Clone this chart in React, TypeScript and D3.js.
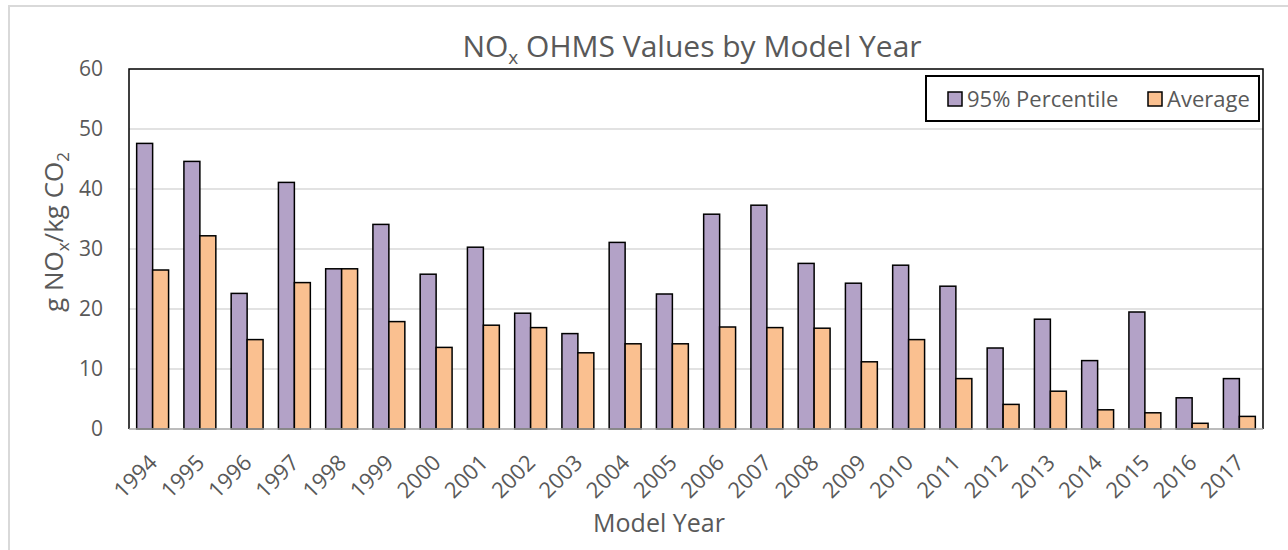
import React, { useEffect, useRef } from "react"
import * as d3 from "d3"

const years = ["1994", "1995", "1996", "1997", "1998", "1999", "2000", "2001", "2002", "2003", "2004", "2005",
  "2006", "2007", "2008", "2009", "2010", "2011", "2012", "2013", "2014", "2015", "2016", "2017"]
const p95 = [47.6, 44.6, 22.6, 41.1, 26.7, 34.1, 25.8, 30.3, 19.3, 15.9, 31.1, 22.5,
  35.8, 37.3, 27.6, 24.3, 27.3, 23.8, 13.5, 18.3, 11.4, 19.5, 5.2, 8.4]
const avg = [26.5, 32.2, 14.9, 24.4, 26.7, 17.9, 13.6, 17.3, 16.9, 12.7, 14.2, 14.2,
  17.0, 16.9, 16.8, 11.2, 14.9, 8.4, 4.1, 6.3, 3.2, 2.7, 0.95, 2.1]
const series = ["95% Percentile", "Average"]
const yTicks = [0, 10, 20, 30, 40, 50, 60]

const colors = ["#B3A2C7", "#FAC090"]
const textColor = "#595959"
const font = "'Open Sans', 'Noto Sans', sans-serif"

const App = () => {
  const ref = useRef<SVGSVGElement>(null)

  useEffect(() => {
    const left = 129, right = 1263, top = 69, bottom = 429
    const svg = d3.select(ref.current)
    svg.selectAll("*").remove()

    const x = d3.scaleBand().domain(years).range([left, right])
    const xs = d3.scaleBand().domain(series).range([0, x.bandwidth()]).paddingOuter(0.48)
    const y = d3.scaleLinear().domain([0, 60]).range([bottom, top])

    // outer chart border
    svg.append("rect")
      .attr("x", 9).attr("y", 6).attr("width", 1300).attr("height", 600)
      .attr("fill", "white").attr("stroke", "#D9D9D9").attr("stroke-width", 2)

    // gridlines
    svg.append("g")
      .selectAll("line")
      .data(yTicks.filter(t => t > 0 && t < 60))
      .join("line")
      .attr("x1", left).attr("x2", right)
      .attr("y1", d => y(d)).attr("y2", d => y(d))
      .attr("stroke", "#D9D9D9").attr("stroke-width", 1.5)

    // bars
    const rows = years.map((yr, i) => ({ yr, vals: [p95[i], avg[i]] }))
    svg.append("g")
      .selectAll("g")
      .data(rows)
      .join("g")
      .attr("transform", d => `translate(${x(d.yr)},0)`)
      .selectAll("rect")
      .data(d => d.vals.map((v, k) => ({ v, k })))
      .join("rect")
      .attr("x", d => xs(series[d.k])!)
      .attr("width", xs.bandwidth())
      .attr("y", d => y(d.v))
      .attr("height", d => y(0) - y(d.v))
      .attr("fill", d => colors[d.k])
      .attr("stroke", "black").attr("stroke-width", 1.5)

    // plot frame
    svg.append("path")
      .attr("d", `M${left},${bottom}V${top}H${right}V${bottom}`)
      .attr("fill", "none").attr("stroke", "black").attr("stroke-width", 1.5)
    svg.append("line")
      .attr("x1", left).attr("x2", right).attr("y1", bottom).attr("y2", bottom)
      .attr("stroke", "#A6A6A6").attr("stroke-width", 1.5)

    // y axis
    const yAxis = svg.append("g")
      .attr("transform", `translate(${left},0)`)
      .call(d3.axisLeft(y).tickValues(yTicks).tickSize(0).tickPadding(26))
    yAxis.select(".domain").remove()
    yAxis.selectAll("text").attr("font-size", 21).attr("font-family", font).attr("fill", textColor)

    // x axis
    const xAxis = svg.append("g")
      .attr("transform", `translate(0,${bottom})`)
      .call(d3.axisBottom(x).tickSize(0))
    xAxis.select(".domain").remove()
    xAxis.selectAll("text")
      .attr("font-size", 22).attr("font-family", font).attr("fill", textColor)
      .attr("text-anchor", "end")
      .attr("dy", null).attr("y", null)
      .attr("transform", "translate(6,35) rotate(-45)")

    // title
    const title = svg.append("text")
      .attr("x", 692).attr("y", 57).attr("text-anchor", "middle")
      .attr("font-size", 30).attr("font-family", font).attr("fill", textColor)
    title.append("tspan").text("NO")
    title.append("tspan").attr("font-size", 19).attr("dy", 7).text("x")
    title.append("tspan").attr("dy", -7).text(" OHMS Values by Model Year")

    // axis titles
    svg.append("text")
      .attr("x", 659).attr("y", 532).attr("text-anchor", "middle")
      .attr("font-size", 25).attr("font-family", font).attr("fill", textColor)
      .text("Model Year")

    const yt = svg.append("text")
      .attr("transform", "translate(63,232) rotate(-90)").attr("text-anchor", "middle")
      .attr("font-size", 26).attr("font-family", font).attr("fill", textColor)
    yt.append("tspan").text("g NO")
    yt.append("tspan").attr("font-size", 17).attr("dy", 6).text("x")
    yt.append("tspan").attr("dy", -6).text("/kg CO")
    yt.append("tspan").attr("font-size", 17).attr("dy", 6).text("2")

    // legend
    const lg = svg.append("g")
    lg.append("rect")
      .attr("x", 926).attr("y", 76).attr("width", 333).attr("height", 45)
      .attr("fill", "white").attr("stroke", "black").attr("stroke-width", 2)
    const legendX = [948, 1148]
    series.forEach((s, k) => {
      lg.append("rect")
        .attr("x", legendX[k]).attr("y", 92).attr("width", 14).attr("height", 14)
        .attr("fill", colors[k]).attr("stroke", "black").attr("stroke-width", 1.5)
      lg.append("text")
        .attr("x", legendX[k] + 19).attr("y", 99).attr("dy", "0.35em")
        .attr("font-size", 22).attr("font-family", font).attr("fill", textColor)
        .text(s)
    })
  }, [])

  return (
    <svg ref={ref} width={1288} height={550}
      style={{ position: "absolute", left: 0, top: 0, display: "block" }} />
  )
}

export default App
